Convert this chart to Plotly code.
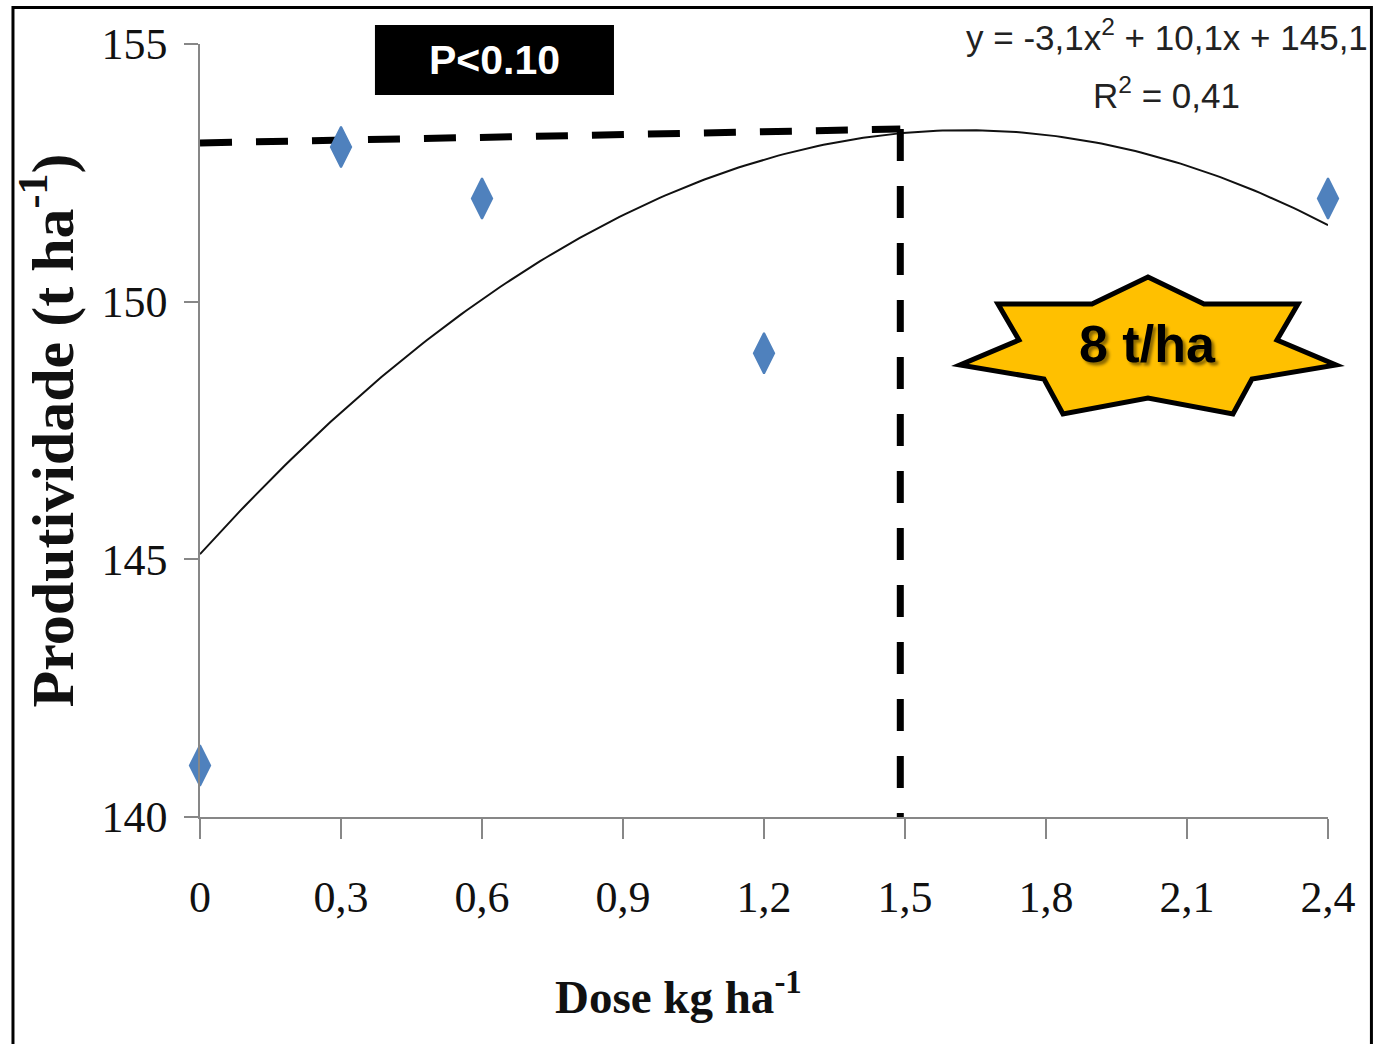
import numpy as np
import plotly.graph_objects as go

# Observed yield by dose
dose = [0, 0.3, 0.6, 1.2, 2.4]
yield_t = [141, 153, 152, 149, 152]

# Quadratic trendline coefficients (y = a*x^2 + b*x + c)
coef_a, coef_b, coef_c = -3.1, 10.1, 145.1
r_squared = "0,41"

# Reference guide lines marking the optimum dose
guide_x = [0, 1.49]
guide_y = [153.08, 153.35]
optimum_dose = 1.49

x_ticks = [0, 0.3, 0.6, 0.9, 1.2, 1.5, 1.8, 2.1, 2.4]
x_tick_text = ["0", "0,3", "0,6", "0,9", "1,2", "1,5", "1,8", "2,1", "2,4"]
y_ticks = [140, 145, 150, 155]

x_fit = np.linspace(0, 2.4, 200)
y_fit = coef_a * x_fit ** 2 + coef_b * x_fit + coef_c

fig = go.Figure()

fig.add_trace(go.Scatter(
    x=x_fit, y=y_fit, mode="lines",
    line=dict(color="#111111", width=2),
    hoverinfo="skip", cliponaxis=False,
))

# Dashed guides
fig.add_trace(go.Scatter(
    x=guide_x, y=guide_y, mode="lines",
    line=dict(color="black", width=7, dash="32px,24px"),
    hoverinfo="skip", cliponaxis=False,
))
fig.add_trace(go.Scatter(
    x=[optimum_dose, optimum_dose], y=[guide_y[1], 140], mode="lines",
    line=dict(color="black", width=7, dash="32px,25px"),
    hoverinfo="skip", cliponaxis=False,
))

fig.add_trace(go.Scatter(
    x=dose, y=yield_t, mode="markers",
    marker=dict(symbol="diamond-tall", size=29, color="#4F81BD",
                line=dict(color="#4F81BD", width=2)),
    cliponaxis=False,
))

serif = "Liberation Serif, Times New Roman, serif"
sans = "Liberation Sans, Arial, sans-serif"

fig.update_xaxes(
    range=[0, 2.4], tickvals=x_ticks, ticktext=x_tick_text,
    showline=True, linecolor="#878787", linewidth=1.5,
    ticks="outside", ticklen=20, tickcolor="#878787", tickwidth=1.5,
    tickfont=dict(family=serif, size=44, color="#111111"),
    ticklabelstandoff=20,
    showgrid=False, zeroline=False,
)
fig.update_yaxes(
    range=[140, 155], tickvals=y_ticks,
    showline=True, linecolor="#878787", linewidth=1.5,
    ticks="outside", ticklen=14, tickcolor="#878787", tickwidth=1.5,
    tickfont=dict(family=serif, size=44, color="#111111"),
    ticklabelstandoff=8,
    showgrid=False, zeroline=False,
)

# Eight-pointed badge, pixel offsets around its centre (up is positive)
star = [(0, 68), (56, 41), (150, 41), (129, 5), (188, -20), (104, -34),
        (85, -69), (0, -53), (-85, -69), (-104, -34), (-188, -20),
        (-129, 5), (-150, 41), (-56, 41)]
star_path = "M " + " L ".join(f"{px},{py}" for px, py in star) + " Z"

fig.update_layout(
    width=1376, height=1044, autosize=False,
    margin=dict(l=200, r=48, t=44, b=227),
    paper_bgcolor="white", plot_bgcolor="white",
    showlegend=False,
    shapes=[
        # outer frame
        dict(type="rect", xref="paper", yref="paper",
             x0=-0.1658, x1=1.0385, y0=-0.31, y1=1.0472,
             line=dict(color="black", width=3), layer="below"),
        # significance label box
        dict(type="rect", xref="paper", yref="paper",
             x0=0.1551, x1=0.367, y0=0.934, y1=1.0246,
             fillcolor="black", line=dict(width=0)),
        dict(type="path", xref="paper", yref="paper",
             xsizemode="pixel", ysizemode="pixel",
             xanchor=0.8404, yanchor=0.6106, path=star_path,
             fillcolor="#FFC000", line=dict(color="black", width=5)),
    ],
    annotations=[
        dict(text="<b>P<0.10</b>", xref="paper", yref="paper",
             x=0.2611, y=0.9793, showarrow=False,
             xanchor="center", yanchor="middle",
             font=dict(family=sans, size=41, color="white")),
        dict(text="<b>8 t/ha</b>", xref="paper", yref="paper",
             x=0.8404, y=0.6119, showarrow=False,
             xanchor="center", yanchor="middle",
             font=dict(family=sans, size=52, color="black",
                       shadow="3px 3px 3px rgba(0,0,0,0.45)")),
        dict(text="y = -3,1x<sup>2</sup> + 10,1x + 145,1",
             xref="paper", yref="paper", x=0.857, y=1.0116,
             showarrow=False, xanchor="center", yanchor="middle",
             font=dict(family=sans, size=35, color="#222222")),
        dict(text=f"R<sup>2</sup> = {r_squared}",
             xref="paper", yref="paper", x=0.857, y=0.937,
             showarrow=False, xanchor="center", yanchor="middle",
             font=dict(family=sans, size=35, color="#222222")),
        dict(text="<b>Produtividade (t ha<sup>-1</sup>)</b>",
             xref="paper", yref="paper", x=-0.1348, y=0.5,
             showarrow=False, textangle=-90,
             xanchor="center", yanchor="middle",
             font=dict(family=serif, size=60, color="#111111")),
        dict(text="<b>Dose kg ha<sup>-1</sup></b>",
             xref="paper", yref="paper", x=0.4246, y=-0.2277,
             showarrow=False, xanchor="center", yanchor="middle",
             font=dict(family=serif, size=47, color="#111111")),
    ],
)

fig.write_html("out.html")
